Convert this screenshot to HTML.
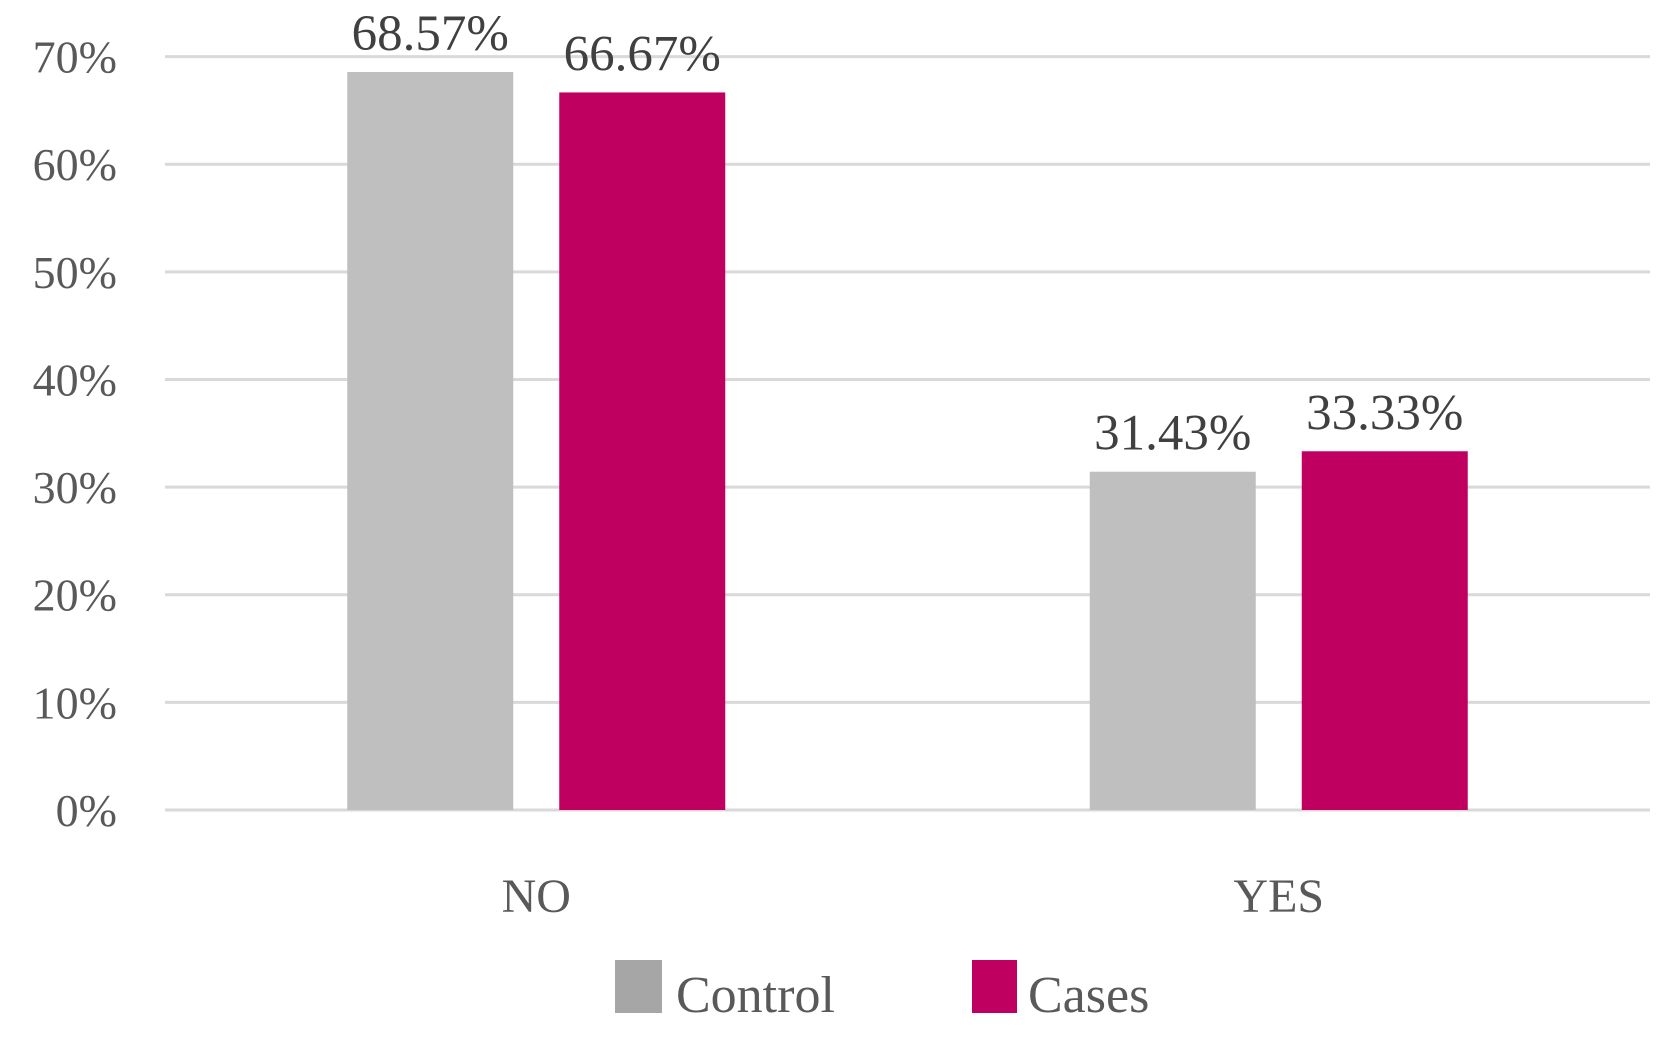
<!DOCTYPE html>
<html><head><meta charset="utf-8"><style>
html,body{margin:0;padding:0;background:#fff;}
svg{display:block;font-family:"Liberation Serif",serif;}
</style></head><body>
<svg id="chart" width="1671" height="1044" viewBox="0 0 1671 1044" xmlns="http://www.w3.org/2000/svg">
<g id="grid"></g>
<g id="yaxis"></g>
<g id="bars"></g>
<g id="xaxis"></g>
<g>
  <rect x="615" y="960" width="47" height="53" fill="#a6a6a6"/>
  <text x="676" y="1012" font-size="52" fill="#595959">Control</text>
  <rect x="972" y="960" width="45" height="53" fill="#c00060"/>
  <text x="1028" y="1012" font-size="52" fill="#595959">Cases</text>
</g>
</svg>
<script>
const categories = ["NO", "YES"];
const controlValues = [68.57, 31.43];
const casesValues = [66.67, 33.33];
const tickValues = [0, 10, 20, 30, 40, 50, 60, 70];
const tickLabels = ["0%", "10%", "20%", "30%", "40%", "50%", "60%", "70%"];
const series = [
  {name: "control", values: controlValues, color: "#bfbfbf"},
  {name: "cases", values: casesValues, color: "#c00060"}
];

const NS = "http://www.w3.org/2000/svg";
const plotL = 165, plotR = 1650, y0 = 810, y70 = 56.6;
function yScale(v){ return y0 - (v/70)*(y0 - y70); }
const band = (plotR - plotL)/categories.length;
function xCenter(i){ return plotL + band*(i+0.5); }
const barW = 166, gap = 46;

function mk(tag, attrs, parent){
  const el = document.createElementNS(NS, tag);
  for (const k in attrs) el.setAttribute(k, attrs[k]);
  parent.appendChild(el);
  return el;
}
const grid = document.getElementById('grid');
const yaxis = document.getElementById('yaxis');
const bars = document.getElementById('bars');
const xaxis = document.getElementById('xaxis');

tickValues.forEach((t, i) => {
  const y = yScale(t);
  const ln = mk('line', {x1: plotL, x2: plotR, y1: y, y2: y, stroke: '#d9d9d9', 'stroke-width': 3}, grid);
  
  
  const tx = mk('text', {x: 117, y: y + 16, 'text-anchor': 'end', 'font-size': 46, fill: '#595959'}, yaxis);
  tx.textContent = tickLabels[i];
  
  
});

categories.forEach((c, i) => {
  const cx = xCenter(i);
  series.forEach((s, j) => {
    const x = j === 0 ? cx - gap/2 - barW : cx + gap/2;
    const v = s.values[i];
    const y = yScale(v);
    const r = mk('rect', {x: x, y: y, width: barW, height: y0 - y, fill: s.color}, bars);
    
    
    const lb = mk('text', {x: x + barW/2, y: y - 22, 'text-anchor': 'middle', 'font-size': 51, fill: '#404040'}, bars);
    lb.textContent = v.toFixed(2) + '%';
    
    
  });
  const xl = mk('text', {x: cx, y: 912, 'text-anchor': 'middle', 'font-size': 48, fill: '#595959'}, xaxis);
  xl.textContent = c;
  
  
});
</script>
</body></html>
